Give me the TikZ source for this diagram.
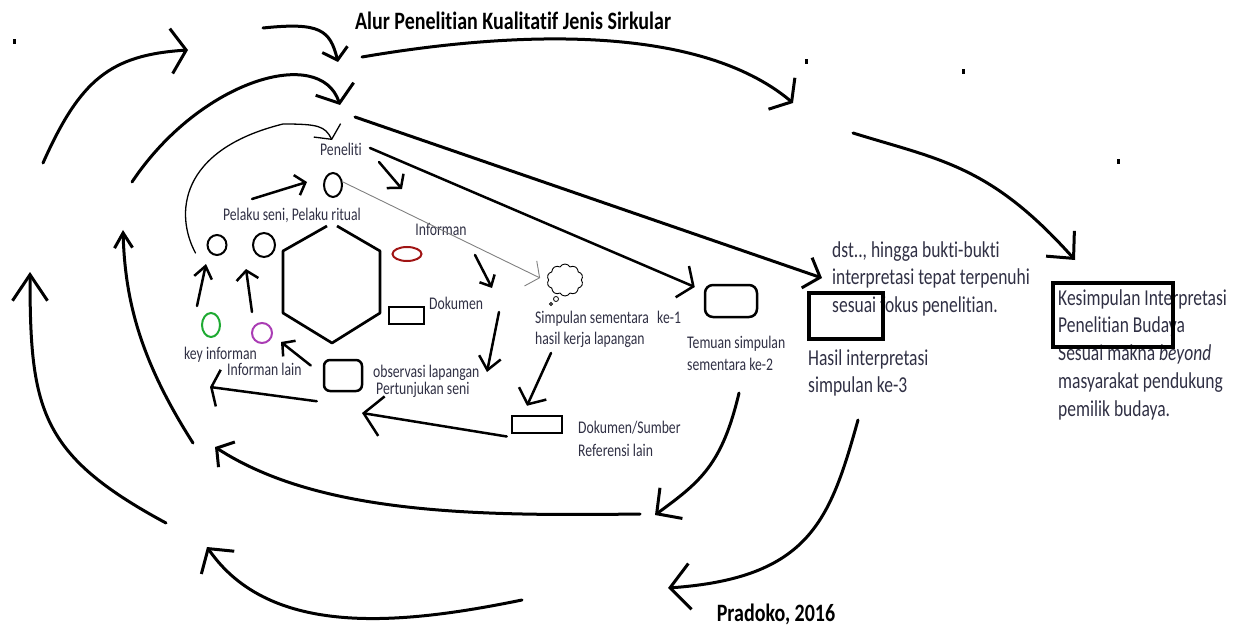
\documentclass[tikz,border=0pt]{standalone}
\usepackage{fontspec}
\setmainfont{Carlito}[Ligatures=NoCommon]
\usepackage{graphicx}
\usetikzlibrary{arrows.meta,shapes.geometric,shapes.symbols}
\definecolor{txtc}{RGB}{48,48,68}
\definecolor{grn}{RGB}{30,170,50}
\definecolor{prp}{RGB}{170,60,180}
\definecolor{dred}{RGB}{160,20,20}
\newcommand{\vst}[1]{\scalebox{1}[1.3]{\begin{tabular}[t]{@{}l@{}}#1\end{tabular}}}
\begin{document}
\begin{tikzpicture}[x=1pt,y=-1pt,
  thk/.style={line width=3pt, line cap=round, line join=round},
  med/.style={line width=2.5pt, line cap=round, line join=round},
  thn/.style={line width=1.3pt, line cap=round, line join=round},
  gry/.style={line width=0.9pt, draw=gray},
  arr/.style 2 args={-{Straight Barb[length=#1pt,width=#2pt]}},
  sm/.style={font=\fontsize{13.7}{16}\selectfont, text=txtc, inner sep=0pt},
  bg/.style={font=\fontsize{17.5}{21.5}\selectfont, text=txtc, inner sep=0pt},
  ttl/.style={font=\fontsize{20}{24}\selectfont\bfseries, text=black, inner sep=0pt, anchor=base},
  elp/.style={draw, ellipse, line width=2pt, inner sep=0pt},
  bx/.style={draw, rectangle, line width=2.5pt, inner sep=0pt},
  bigbx/.style={draw, rectangle, line width=3.2pt, inner sep=0pt}
]
\useasboundingbox (0,0) rectangle (1246,628);

% stray dots
\fill (13,39) rectangle (16,44);
\fill (805,59) rectangle (808,64);
\fill (962,69) rectangle (965,74);
\fill (1117,159) rectangle (1120,164);

% title and author
\node[ttl] (title) at (513,30) {\scalebox{1}[1.25]{Alur Penelitian Kualitatif Jenis Sirkular}};
\node[ttl] (author) at (776,621) {\scalebox{1}[1.25]{Pradoko, 2016}};

% shapes
\node[elp, minimum width=18, minimum height=24] (pc) at (333,185) {};
\node[elp, minimum width=19, minimum height=20] (c1) at (217,245) {};
\node[elp, minimum width=22, minimum height=24] (c2) at (264,245) {};
\node[elp, draw=grn, minimum width=18, minimum height=24] (kinf) at (211,325) {};
\node[elp, draw=prp, minimum width=20, minimum height=20] (ilain) at (262,333) {};
\node[elp, draw=dred, minimum width=29, minimum height=14] (infe) at (407,254) {};
\node[bx, minimum width=35, minimum height=17] (dok) at (406.5,315.5) {};
\node[bx, rounded corners=6pt, minimum width=38, minimum height=31] (obs) at (343,375.5) {};
\node[bx, minimum width=50, minimum height=17] (dsr) at (537,424.5) {};
\node[bx, rounded corners=8pt, minimum width=52, minimum height=32] (ke2) at (731,301) {};
\node[draw, cloud, cloud puffs=10, cloud puff arc=120, aspect=1.1, line width=0.9pt,
      minimum width=36, minimum height=32, inner sep=0pt] (cloud) at (565,280) {};
\draw[line width=0.8pt] (556,299) circle (2.5pt);
\draw[line width=0.8pt] (551,304) circle (1.5pt);
% hexagon (open at top)
\draw[line width=2.7pt, line join=round] (337,226) -- (380,251) -- (380,313) -- (332,343)
   -- (283,313) -- (283,251) -- (327,226);

% labels
\node[sm, anchor=base] (lpen) at (341,156) {\vst{Peneliti}};
\node[sm, anchor=base] (lpel) at (292,221) {\vst{Pelaku seni, Pelaku ritual}};
\node[sm, anchor=base] (linf) at (441,236) {\vst{Informan}};
\node[sm, anchor=base west] (ldok) at (429,309) {\vst{Dokumen}};
\node[sm, anchor=base west] (lkey) at (184,359) {\vst{key informan}};
\node[sm, anchor=base west] (llain) at (227,375) {\vst{Informan lain}};
\node[sm, anchor=base west, font=\fontsize{13.7}{12.3}\selectfont] (lobs) at (373,377)
   {\vst{observasi lapangan\\\hspace{3pt}Pertunjukan seni}};
\node[sm, anchor=base west, font=\fontsize{13.7}{16.2}\selectfont] (lsim) at (535,323)
   {\vst{Simpulan sementara\\hasil kerja lapangan}};
\node[sm, anchor=base west] (lke1) at (657,323) {\vst{ke-1}};
\node[sm, anchor=base west, font=\fontsize{13.7}{17}\selectfont] (ltem) at (687,348)
   {\vst{Temuan simpulan\\sementara ke-2}};
\node[sm, anchor=base west, font=\fontsize{13.7}{17.7}\selectfont] (ldsr) at (578,433)
   {\vst{Dokumen/Sumber\\Referensi lain}};
\node[bg, anchor=base west, font=\fontsize{17.5}{21.2}\selectfont] (ldst) at (832,257)
   {\vst{dst.., hingga bukti-bukti\\interpretasi tepat terpenuhi\\sesuai fokus penelitian.}};
\node[bg, anchor=base west, font=\fontsize{17.5}{20.8}\selectfont] (lhas) at (808,365)
   {\vst{Hasil interpretasi\\simpulan ke-3}};
\node[bg, anchor=base west, font=\fontsize{17.5}{21.5}\selectfont] (lkes) at (1058,305)
   {\vst{Kesimpulan Interpretasi\\Penelitian Budaya\\Sesuai makna \textit{beyond}\\masyarakat pendukung\\pemilik budaya.}};

% boxes drawn over text
\node[bigbx, minimum width=74, minimum height=46] (box3) at (846,316) {};
\node[bigbx, minimum width=120, minimum height=64] (boxk) at (1113,315) {};

% inner arrows
\draw[thn, arr={10}{30}] ([shift={(-11,8)}]c1.west) .. controls (175,215) and (178,150) .. (283,124)
   .. controls (318,124) and (325,126) .. (332,140);
\draw[med, arr={9}{21}] (252,199) -- ([shift={(-16,-3)}]pc.west);
\draw[med, arr={9}{22}] (379,162) -- (402,189);
\draw[gry, arr={10}{28}] ([shift={(0,-3)}]pc.east) -- ([shift={(-8,-2)}]cloud.west);
\draw[med, arr={12}{34}] (370,148) -- ([shift={(-9,-14)}]ke2.west);
\draw[thk, arr={14}{32}] (355,117) -- (822,278);
\draw[med, arr={12}{18}] ([shift={(-14,-6)}]kinf.north) -- ([shift={(-11,8)}]c1.south);
\draw[med, arr={9}{22}] ([shift={(-10,-10)}]ilain.north) -- ([shift={(-18,11)}]c2.south);
\draw[med, arr={9}{20}] ([shift={(-12,-10)}]obs.west) -- ([shift={(8,9)}]ilain.east);
\draw[med, arr={7}{37}] ([shift={(-6,9)}]obs.south west) -- (210,387);
\draw[med, arr={9}{17}] (475,255) -- (492,288);
\draw[med, arr={13}{22}] (499,312) -- (487,372);
\draw[med, arr={12}{30}] (551,353) -- ([shift={(-10,-9)}]dsr.north);
\draw[med, arr={18}{40}] ([shift={(-4,12)}]dsr.west) -- (362,413);

% outer cycle arrows
\draw[thk, arr={15}{45}] (43,163) .. controls (80,80) and (110,55) .. (188,50);
\draw[thk, arr={11}{26}] (263,28) .. controls (320,22) and (330,30) .. (338,62);
\draw[thk, arr={15}{40}] (132,182) .. controls (200,80) and (320,45) .. (340,105);
\draw[thk, arr={13}{41}] (362,57) .. controls (520,30) and (700,25) .. (793,103);
\draw[thk, arr={20}{38}] (853,133) .. controls (940,160) and (990,165) .. (1075,260);
\draw[thk, arr={18}{38}] (739,393) .. controls (722,465) and (700,482) .. (655,515);
\draw[thk, arr={12}{30}] (640,514) .. controls (480,516) and (320,515) .. (215,447);
\draw[thk, arr={15}{18}] (193,443) .. controls (140,360) and (125,300) .. (123,230);
\draw[thk, arr={26}{35}] (166,523) .. controls (40,455) and (30,410) .. (30,272);
\draw[thk, arr={17}{40}] (522,600) .. controls (400,625) and (270,638) .. (207,547);
\draw[thk, arr={20}{46}] (858,420) .. controls (830,520) and (810,578) .. (668,588);
\end{tikzpicture}
\end{document}
